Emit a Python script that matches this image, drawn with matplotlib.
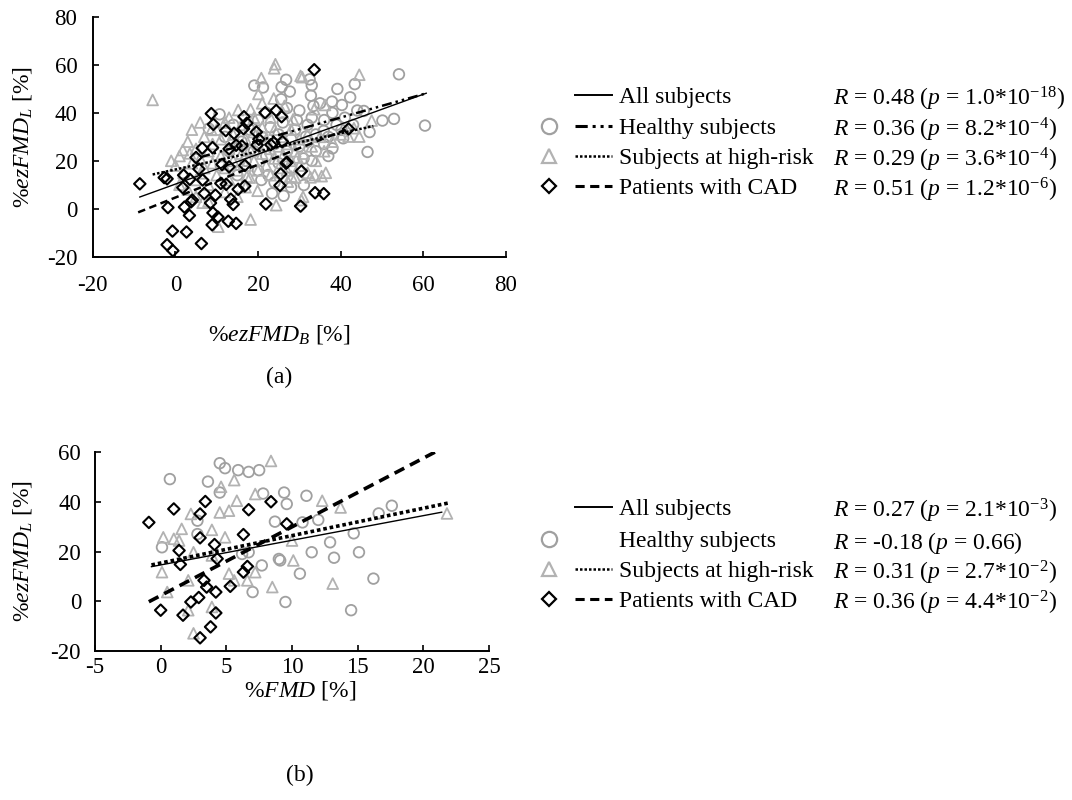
import matplotlib
matplotlib.use('Agg')
import matplotlib.pyplot as plt
from matplotlib.lines import Line2D

plt.rcParams['font.family'] = ['Liberation Serif', 'DejaVu Serif']
plt.rcParams['mathtext.fontset'] = 'custom'
plt.rcParams['mathtext.rm'] = 'Liberation Serif'
plt.rcParams['mathtext.it'] = 'Liberation Serif:italic'
plt.rcParams['axes.unicode_minus'] = False

# ---------------- data: panel (a) ----------------
a_healthy_x = [8.1, 10.7, 19.1, 21.2, 25.7, 26.8, 25.6, 27.7, 32.5, 33, 32.8, 33.4, 39.2, 37.9, 40.3, 42.3,
               43.4, 54.1, 60.4, 52.9, 50.1, 46.5, 45.6, 38, 40.2, 40.6, 35.9, 31.6, 29.4, 31.1, 23.4, 26.2,
               22.5, 20.8, 12, 14, 16, 18, 19, 20, 21, 22, 22, 23, 24, 25, 25, 26, 27, 27, 28, 28, 29, 30,
               30, 31, 32, 32, 33, 34, 34, 35, 36, 36, 37, 38, 39, 41, 43, 44, 47, 17, 15, 20, 24, 28, 33,
               37, 13, 11]
a_healthy_y = [33.4, 39.4, 51.4, 50.6, 50.8, 53.8, 45.7, 48.9, 54, 51.5, 47.2, 42.9, 50, 44.7, 43.3, 46.5,
               52, 56.1, 34.7, 37.5, 36.8, 23.7, 40.8, 25.2, 32.9, 29.4, 32.5, 30.1, 37, 9.9, 6.4, 5.4,
               14.1, 12, 30, 35, 28, 33, 24, 37, 30, 22, 40, 34, 27, 31, 19, 36, 24, 42, 29, 17, 33, 26,
               41, 21, 35, 28, 38, 24, 31, 44, 27, 37, 30, 40, 35, 38, 35, 41, 32, 20, 14, 16, 11, 9, 20,
               22, 24, 18]

a_risk_x = [-5.5, 24.2, 23.9, 20.8, 20.1, 23.8, 26.4, 30.3, 30.7, 44.5, 33.6, 36.2, 47.5, 43.2, 44.5, 41.9,
            32.7, 33.7, 35.4, 36.4, 30.9, 30.5, 24.4, 19.9, 18.2, 10.4, 6.6, 1.8, 3.5, 8.7, 15.2, 18.2,
            28.5, 29.5, 28.1, 27.2, 17.3, 6.1,
            0, 1, 2, 3, 4, 5, 5, 6, 7, 7, 8, 8, 9, 9, 10, 10, 11, 11, 12, 12, 13, 13, 14, 14, 15, 15,
            16, 16, 17, 17, 18, 18, 19, 19, 20, 20, 21, 21, 22, 22, 23, 23, 24, 24, 25, 25, 26, 26, 27,
            27, 28, 28, 29, 29, 30, 30, 31, 32, 32, 33, 34, 35, 36, 38, 40, 5, 8, 12, 15, 17, 3, 19, 23,
            26, 21, 13, 4, 1, -1, 6]
a_risk_y = [45.4, 60.3, 58.6, 54.5, 47.9, 46, 42.9, 55.4, 54.9, 55.9, 41.5, 43.3, 36.8, 33.6, 30.1, 30.1,
            13.1, 14.1, 13.6, 15, 5, 3.6, 1.5, 7.5, -4.5, -7.5, 2.5, 24.5, 23.1, 32.9, 41.2, 41.5,
            37.3, 21.4, 13.4, 11.3, 13.4, 14.8,
            18, 22, 15, 28, 19, 25, 12, 21, 30, 17, 24, 10, 27, 19, 33, 14, 22, 29, 17, 36, 25, 12,
            20, 31, 27, 16, 23, 35, 18, 29, 13, 25, 32, 20, 27, 16, 23, 34, 18, 29, 14, 25, 21, 33, 17,
            26, 22, 30, 16, 27, 20, 33, 24, 13, 29, 18, 23, 31, 15, 26, 20, 30, 24, 28, 31, 5, 3, 7, 5,
            9, 8, 38, 38, 40, 44, 38, 33, 10, 20, 36]

a_cad_x = [-8.6, -2.7, -2, -1.8, -0.7, -2, -0.6, 2, 1.8, 2.2, 2.7, 3.4, 3.5, 4.1, 3.8, 5, 5.7, 6.5, 6.6,
           7, 6.3, 8.7, 9.2, 9, 8.5, 9.1, 8.9, 9.7, 10.3, 11, 11.3, 12.2, 12.3, 13, 13, 13.4, 12.8, 14,
           14.7, 14.2, 14.7, 15.2, 16.6, 17.3, 16.5, 16.8, 16.8, 16.1, 19.6, 20.2, 19.8, 21.7, 21.9,
           23.1, 23.8, 24.4, 25.7, 25.5, 25.3, 25.9, 27, 26.8, 30.5, 30.3, 33.6, 33.8, 35.9, 41.9]
a_cad_y = [10.4, 13, 12.5, 0.5, -9.3, -15, -17.5, 14, 8.8, 0.7, -9.7, -2.8, 12.3, 3.6, 2.9, 21.4, 16.6,
           25.3, 12, 6.4, -14.5, 39.7, 35.2, 25.5, 2.4, -1.7, -6.7, 5.7, -3.5, 10.6, 18.5, 32.6, 10.2,
           25, 17.5, 4, -5.2, 1.8, -6.1, 31.5, 26.5, 8.1, 38.4, 35.7, 33.4, 18.1, 9.5, 26.2, 32, 29,
           26.6, 40.1, 2, 26.7, 27.6, 41, 38.4, 14.5, 9.7, 28, 19.4, 19, 15.7, 1.1, 58, 6.7, 6.3, 33.3]

# regression lines (end points)
a_all_x, a_all_y = [-8.6, 60.7], [4.9, 48.2]
a_healthy_fit_x, a_healthy_fit_y = [6, 60.4], [21.5, 48]
a_risk_fit_x, a_risk_fit_y = [-5.5, 47.9], [14.3, 34.5]
a_cad_fit_x, a_cad_fit_y = [-9, 42], [-1.5, 33.5]

a_stats = ['$R$ = 0.48 ($p$ = 1.0*10$^{-18}$)', '$R$ = 0.36 ($p$ = 8.2*10$^{-4}$)',
           '$R$ = 0.29 ($p$ = 3.6*10$^{-4}$)', '$R$ = 0.51 ($p$ = 1.2*10$^{-6}$)']

# ---------------- data: panel (b) ----------------
b_healthy_x = [4.5, 4.9, 5.9, 6.7, 7.5, 0.7, 3.6, 4.5, 7.8, 9.4, 11.1, 9.6, 2.8, 8.7, 10.8, 12, 16.6, 17.6,
               0.1, 2.8, 6.2, 6.7, 9, 7, 7.7, 14.7, 12.9, 11.5, 15.1, 13.2, 10.6, 16.2, 9.5, 14.5, 9.1]
b_healthy_y = [55.5, 53.5, 52.7, 52, 52.7, 49.1, 48.1, 43.7, 43.3, 43.7, 42.4, 39.1, 32.4, 32, 31.7, 32.7,
               35.3, 38.4, 21.7, 27, 19, 19.7, 17, 3.7, 14.4, 27.3, 23.7, 19.7, 19.7, 17.5, 11.1, 9.1, -0.3,
               -3.6, 16.4]
b_risk_x = [8.4, 5.6, 4.6, 7.2, 5.8, 4.5, 5.2, 2.3, 3.9, 1.6, 0.2, 1, 1.4, 4.9, 2.5, 0.1, 0.5, 2.1, 5.2,
            6.6, 7.2, 8.5, 2.5, 2.1, 3.9, 5.6, 3.9, 12.3, 13.7, 10, 10.1, 13.1, 21.8]
b_risk_y = [56.4, 48.7, 46, 43.1, 40.4, 35.7, 36.4, 35.1, 28.7, 29.1, 25.7, 25.1, 24.4, 25.7, 19.7, 11.7,
            3.7, 8.4, 11.1, 8.4, 11.7, 5.7, -12.9, -3.6, -2.3, 8.4, 18.4, 40.4, 37.7, 24.4, 16.4, 7.1,
            35.3]
b_cad_x = [-0.9, 1, 3.4, 3, 6.7, 8.4, 3, 4.1, 6.3, 1.4, 1.5, 4.3, 6.6, 6.3, 3.3, 4.2, 5.3, 3.5, 2.9, 2.3,
           0, 1.7, 4.2, 3.8, 3, 9.6]
b_cad_y = [31.7, 37.1, 40.1, 35.1, 36.8, 40, 25.5, 22.8, 26.8, 20.4, 14.8, 17.1, 14, 11.7, 8.4, 3.7, 6,
           5.7, 1.5, -0.3, -3.6, -5.6, -4.7, -10.3, -14.7, 31.1]

b_all_x, b_all_y = [-0.7, 21.4], [13.9, 35.8]
b_risk_fit_x, b_risk_fit_y = [-0.7, 22], [14.6, 39.6]
b_cad_fit_x, b_cad_fit_y = [-0.9, 20.9], [-0.2, 60]

b_stats = ['$R$ = 0.27 ($p$ = 2.1*10$^{-3}$)', '$R$ = -0.18 ($p$ = 0.66)',
           '$R$ = 0.31 ($p$ = 2.7*10$^{-2}$)', '$R$ = 0.36 ($p$ = 4.4*10$^{-2}$)']

group_labels = ['All subjects', 'Healthy subjects', 'Subjects at high-risk', 'Patients with CAD']
a_ticks_x = [-20, 0, 20, 40, 60, 80]
a_ticks_y = [-20, 0, 20, 40, 60, 80]
b_ticks_x = [-5, 0, 5, 10, 15, 20, 25]
b_ticks_y = [-20, 0, 20, 40, 60]

# ---------------- styling ----------------
W, H = 1072, 800
fig = plt.figure(figsize=(W / 100, H / 100), dpi=100)


def fx(px):
    return px / W


def fy(py):
    return 1 - py / H


C_H = '#a0a0a0'
C_R = '#b2b2b2'
MS_O = 58
MS_T = 60
MS_D = 34
FS_TICK = 16.5
FS_TEXT = 17

ls_all = '-'
ls_healthy = (0, (4, 1.6, 1, 1.6, 1, 1.6))
ls_risk = (0, (1, 0.8))
ls_cad = (0, (3, 1.8))


def style_axes(ax, xt, yt, xpad, ypad):
    for s in ['top', 'right']:
        ax.spines[s].set_visible(False)
    for s in ['left', 'bottom']:
        ax.spines[s].set_linewidth(1.4)
    ax.set_xticks(xt)
    ax.set_yticks(yt)
    ax.set_xlim(xt[0], xt[-1])
    ax.set_ylim(yt[0], yt[-1])
    ax.tick_params(direction='in', length=4.5, width=1.2, labelsize=FS_TICK)
    ax.tick_params(axis='x', pad=xpad)
    ax.tick_params(axis='y', pad=ypad)
    ax.patch.set_alpha(0)


def draw_points(ax, hx, hy, rx, ry, cx, cy):
    ax.scatter(hx, hy, s=MS_O, marker='o', facecolors='none', edgecolors=C_H, linewidths=1.3, zorder=2)
    ax.scatter(rx, ry, s=MS_T, marker='^', facecolors='none', edgecolors=C_R, linewidths=1.3, zorder=2)
    ax.scatter(cx, cy, s=MS_D, marker='D', facecolors='none', edgecolors='black', linewidths=1.5, zorder=3)


# ---------------- panel (a) ----------------
ax1 = fig.add_axes([fx(92.7), fy(256.7), fx(506) - fx(92.7), fy(17) - fy(256.7)])
style_axes(ax1, a_ticks_x, a_ticks_y, 13, 11)
draw_points(ax1, a_healthy_x, a_healthy_y, a_risk_x, a_risk_y, a_cad_x, a_cad_y)
ax1.plot(a_all_x, a_all_y, color='black', lw=1.0, ls=ls_all, zorder=4)
ax1.plot(a_healthy_fit_x, a_healthy_fit_y, color='black', lw=1.8, ls=ls_healthy, zorder=4)
ax1.plot(a_risk_fit_x, a_risk_fit_y, color='black', lw=1.8, ls=ls_risk, zorder=4)
ax1.plot(a_cad_fit_x, a_cad_fit_y, color='black', lw=1.8, ls=ls_cad, zorder=4)

fig.text(fx(23), fy(137), r'%$ezFMD_L$ [%]', rotation=90, ha='center', va='center', fontsize=FS_TEXT)
fig.text(fx(279), fy(335), r'%$ezFMD_B$ [%]', ha='center', va='center', fontsize=FS_TEXT)
fig.text(fx(279), fy(377), '(a)', ha='center', va='center', fontsize=FS_TEXT)

# ---------------- panel (b) ----------------
ax2 = fig.add_axes([fx(95), fy(651), fx(489) - fx(95), fy(452) - fy(651)])
style_axes(ax2, b_ticks_x, b_ticks_y, 4, 10)
draw_points(ax2, b_healthy_x, b_healthy_y, b_risk_x, b_risk_y, b_cad_x, b_cad_y)
ax2.plot(b_all_x, b_all_y, color='black', lw=1.0, ls=ls_all, zorder=4)
ax2.plot(b_risk_fit_x, b_risk_fit_y, color='black', lw=2.6, ls=ls_risk, zorder=4)
ax2.plot(b_cad_fit_x, b_cad_fit_y, color='black', lw=2.6, ls=ls_cad, zorder=4)

fig.text(fx(23), fy(551), r'%$ezFMD_L$ [%]', rotation=90, ha='center', va='center', fontsize=FS_TEXT)
fig.text(fx(300), fy(690), r'%$FMD$ [%]', ha='center', va='center', fontsize=FS_TEXT)
fig.text(fx(300), fy(775), '(b)', ha='center', va='center', fontsize=FS_TEXT)


# ---------------- legends ----------------
def legend(rows_y, stats, lines):
    markers = [None, ('o', C_H, 11), ('^', C_R, 10.5), ('D', 'black', 7.5)]
    for i, y in enumerate(rows_y):
        m = markers[i]
        if m is not None:
            fig.add_artist(Line2D([fx(549)], [fy(y)], transform=fig.transFigure, marker=m[0],
                                  markersize=m[2], markerfacecolor='none', markeredgecolor=m[1],
                                  markeredgewidth=1.6, ls='none'))
        if lines[i] is not None:
            ls, lw = lines[i]
            fig.add_artist(Line2D([fx(575), fx(612)], [fy(y), fy(y)], transform=fig.transFigure,
                                  color='black', lw=lw, ls=ls))
        fig.text(fx(619), fy(y), group_labels[i], ha='left', va='center_baseline', fontsize=FS_TEXT)
        fig.text(fx(833), fy(y), stats[i], ha='left', va='center_baseline', fontsize=FS_TEXT)


legend([95, 126, 156, 186], a_stats,
       [(ls_all, 1.4), (ls_healthy, 2.2), (ls_risk, 1.8), (ls_cad, 2.2)])
legend([507, 539, 569, 599], b_stats,
       [(ls_all, 1.4), None, (ls_risk, 1.8), (ls_cad, 2.2)])

fig.savefig('out.png', dpi=100)
